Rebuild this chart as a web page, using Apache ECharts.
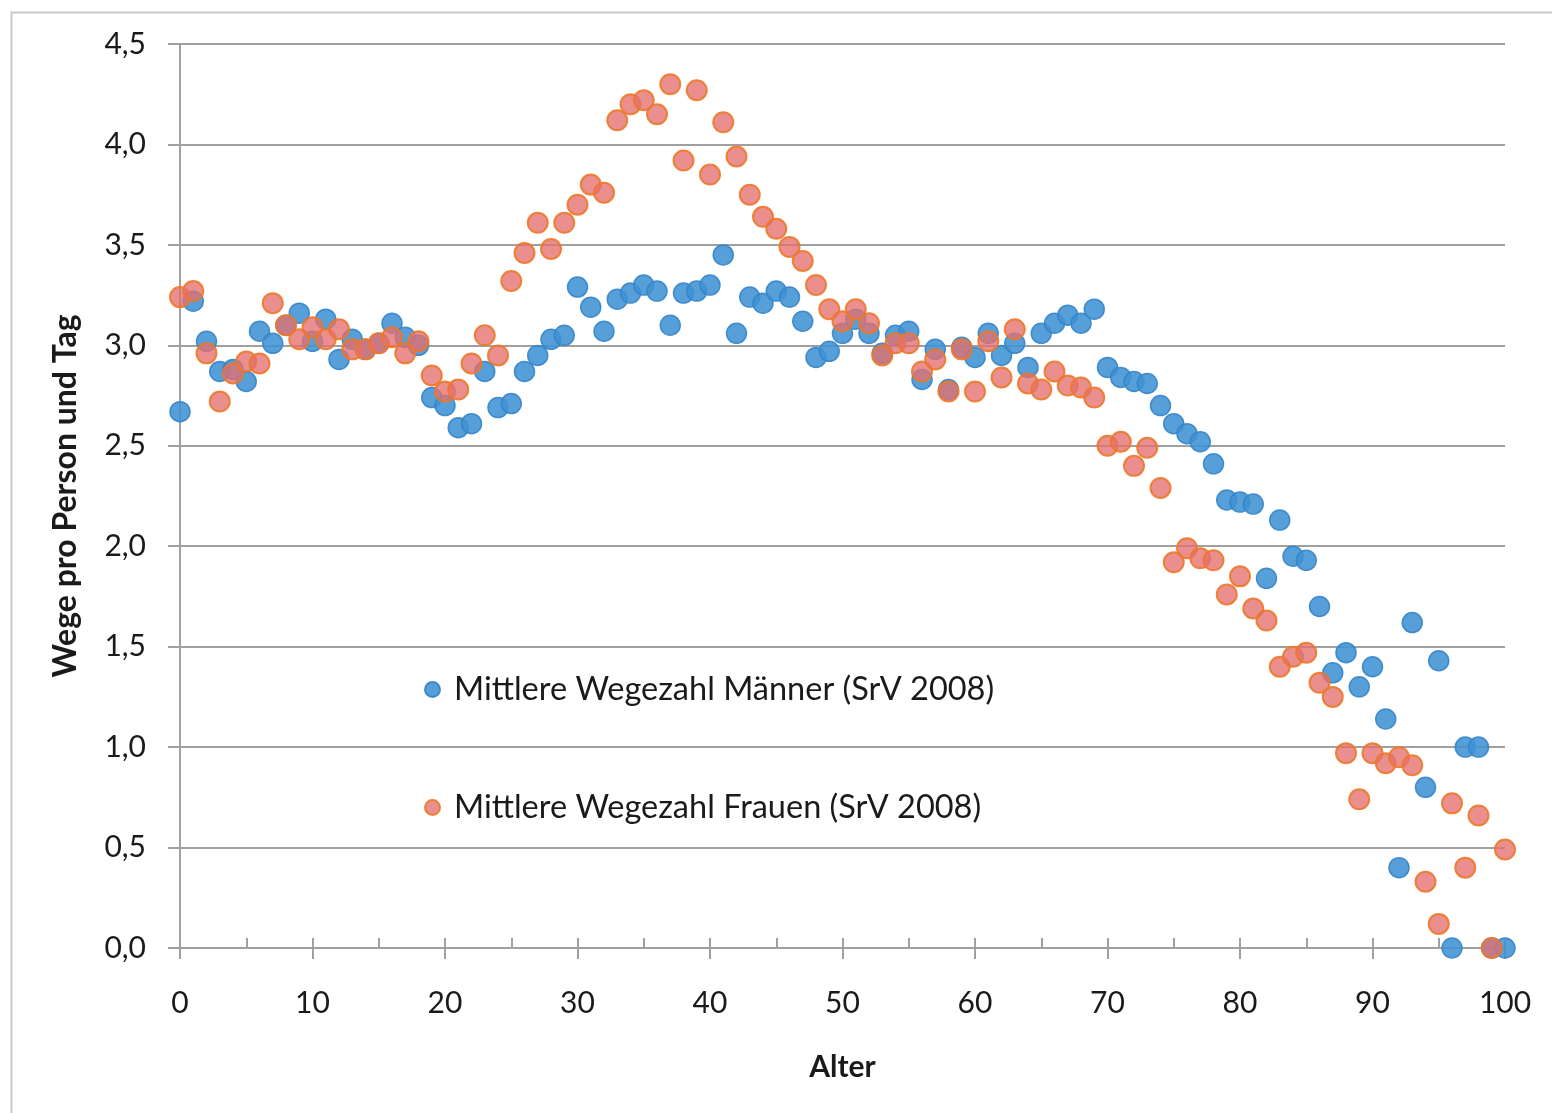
<!DOCTYPE html>
<html>
<head>
<meta charset="utf-8">
<script src="https://cdn.jsdelivr.net/npm/echarts@6/dist/echarts.min.js"></script>
<style>
html,body{margin:0;padding:0;background:#fff;}
#c{width:1552px;height:1113px;}
</style>
</head>
<body>
<div id="c"></div>
<script>
const ages = [0,1,2,3,4,5,6,7,8,9,10,11,12,13,14,15,16,17,18,19,20,21,22,23,24,25,26,27,28,29,30,31,32,33,34,35,36,37,38,39,40,41,42,43,44,45,46,47,48,49,50,51,52,53,54,55,56,57,58,59,60,61,62,63,64,65,66,67,68,69,70,71,72,73,74,75,76,77,78,79,80,81,82,83,84,85,86,87,88,89,90,91,92,93,94,95,96,97,98,99,100];
const men = [
 2.67,3.22,3.02,2.87,2.88,2.82,3.07,3.01,3.10,3.16,
 3.02,3.13,2.93,3.03,2.98,3.01,3.11,3.04,3.00,2.74,
 2.70,2.59,2.61,2.87,2.69,2.71,2.87,2.95,3.03,3.05,
 3.29,3.19,3.07,3.23,3.26,3.30,3.27,3.10,3.26,3.27,
 3.30,3.45,3.06,3.24,3.21,3.27,3.24,3.12,2.94,2.97,
 3.06,3.13,3.06,2.96,3.05,3.07,2.83,2.98,2.78,2.99,
 2.94,3.06,2.95,3.01,2.89,3.06,3.11,3.15,3.11,3.18,
 2.89,2.84,2.82,2.81,2.70,2.61,2.56,2.52,2.41,2.23,
 2.22,2.21,1.84,2.13,1.95,1.93,1.70,1.37,1.47,1.30,
 1.40,1.14,0.40,1.62,0.80,1.43,0.00,1.00,1.00,0.00,
 0.00];
const women = [
 3.24,3.27,2.96,2.72,2.86,2.92,2.91,3.21,3.10,3.03,
 3.09,3.03,3.08,2.98,2.98,3.01,3.04,2.96,3.02,2.85,
 2.77,2.78,2.91,3.05,2.95,3.32,3.46,3.61,3.48,3.61,
 3.70,3.80,3.76,4.12,4.20,4.22,4.15,4.30,3.92,4.27,
 3.85,4.11,3.94,3.75,3.64,3.58,3.49,3.42,3.30,3.18,
 3.12,3.18,3.11,2.95,3.01,3.01,2.87,2.93,2.77,2.98,
 2.77,3.02,2.84,3.08,2.81,2.78,2.87,2.80,2.79,2.74,
 2.50,2.52,2.40,2.49,2.29,1.92,1.99,1.94,1.93,1.76,
 1.85,1.69,1.63,1.40,1.45,1.47,1.32,1.25,0.97,0.74,
 0.97,0.92,0.95,0.91,0.33,0.12,0.72,0.40,0.66,0.00,
 0.49];
const seriesNames = ['Mittlere Wegezahl Männer (SrV 2008)','Mittlere Wegezahl Frauen (SrV 2008)'];
const xAxisName = 'Alter';
const yAxisName = 'Wege pro Person und Tag';

const FONT = 'Lato';
const TXT = '#1a1a1a';
const GRIDC = '#a0a0a0';

const chart = echarts.init(document.getElementById('c'), null, {renderer:'canvas'});
const pairs = (ys) => ages.map((a,i)=>[a, ys[i]]);

chart.setOption({
  animation:false,
  backgroundColor:'#fff',
  graphic:[{type:'rect', left:9, top:10, shape:{width:1700, height:1300}, style:{fill:'none', stroke:'#c8c8c8', lineWidth:2}, z:-10, silent:true}],
  grid:{left:180, right:47, top:44, bottom:165},
  legend:{
    orient:'vertical', left:419, top:668, itemGap:85,
    icon:'circle', itemWidth:15, itemHeight:15,
    textStyle:{fontFamily:FONT, fontSize:32.5, color:TXT, padding:[0,0,0,9]},
    data:seriesNames
  },
  xAxis:[{
    type:'value', min:0, max:100, interval:10,
    name:xAxisName, nameLocation:'middle', nameGap:104,
    nameTextStyle:{fontFamily:FONT, fontSize:30, fontWeight:'bold', color:TXT},
    axisLine:{show:true, lineStyle:{color:GRIDC, width:2}},
    axisTick:{show:true, inside:false, length:11, lineStyle:{color:GRIDC, width:2}},
    axisLabel:{fontFamily:FONT, fontSize:30, color:TXT, margin:40},
    splitLine:{show:false}
  },{
    type:'value', min:0, max:100, interval:5, position:'bottom', gridIndex:0,
    axisLine:{show:false},
    axisTick:{show:true, inside:true, length:10, lineStyle:{color:GRIDC, width:2}},
    axisLabel:{show:false}, splitLine:{show:false}
  }],
  yAxis:{
    type:'value', min:0, max:4.5, interval:0.5,
    name:yAxisName, nameLocation:'middle', nameGap:98, nameRotate:90,
    nameTextStyle:{fontFamily:FONT, fontSize:32, fontWeight:'bold', color:TXT},
    axisLine:{show:true, lineStyle:{color:GRIDC, width:2}},
    axisTick:{show:true, inside:false, length:12, lineStyle:{color:GRIDC, width:2}},
    axisLabel:{fontFamily:FONT, fontSize:30, color:TXT, margin:34,
      formatter:(v)=>v.toFixed(1).replace('.',',')},
    splitLine:{show:true, lineStyle:{color:GRIDC, width:2}}
  },
  series:[{
    name:seriesNames[0], type:'scatter', xAxisIndex:0, data:pairs(men),
    symbolSize:20,
    itemStyle:{color:'rgba(64,146,212,0.88)', borderColor:'rgba(52,132,200,0.9)', borderWidth:1.5, opacity:1},
    z:2
  },{
    name:seriesNames[1], type:'scatter', xAxisIndex:0, data:pairs(women),
    symbolSize:20,
    itemStyle:{color:'rgba(228,112,110,0.78)', borderColor:'rgba(236,120,40,0.9)', borderWidth:2, opacity:1},
    z:3
  }]
});
</script>
</body>
</html>
